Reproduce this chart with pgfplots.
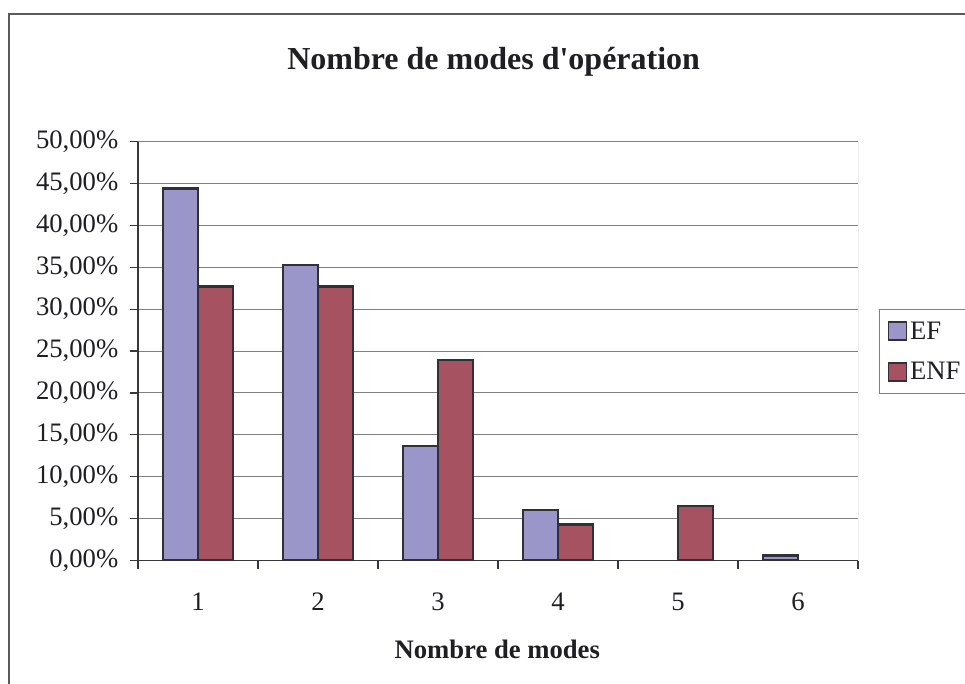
\documentclass[border=0pt]{standalone}
\usepackage{pgfplots}
\pgfplotsset{compat=1.18}
\usepackage{fontspec}
\setmainfont{Liberation Serif}
\definecolor{efc}{RGB}{155,150,201}
\definecolor{enfc}{RGB}{166,82,96}
\definecolor{barline}{RGB}{48,48,56}
\definecolor{gridc}{RGB}{128,128,128}
\definecolor{axc}{RGB}{55,55,60}
\definecolor{txt}{RGB}{30,30,35}
\definecolor{framec}{RGB}{90,90,90}
\pgfplotsset{mylegend/.style={legend image code/.code={\draw[##1, line width=1.4pt] (0pt,-6.75pt) rectangle (13.5pt,6.75pt);}}}
\begin{document}
\begin{tikzpicture}
\useasboundingbox (0,0) rectangle (723.75pt,-513pt);
\draw[framec, line width=1.5pt] (6.4pt,-600pt) -- (6.4pt,-10.5pt) -- (800pt,-10.5pt);
\begin{axis}[
  at={(103.5pt,-420.4pt)}, anchor=south west,
  scale only axis, width=540pt, height=314.25pt,
  xmin=0.5, xmax=6.5, ymin=0, ymax=50,
  ybar=0pt, bar width=26.25pt,
  axis x line*=bottom, axis y line*=left,
  axis line style={axc, line width=0.9pt},
  xtick={0.5,1.5,...,6.5}, xticklabels={},
  extra x ticks={1,2,3,4,5,6},
  extra x tick labels={1,2,3,4,5,6},
  extra x tick style={major tick length=0pt},
  ytick={0,5,...,50},
  tick align=outside, major tick length=6pt,
  tick style={axc, line width=0.9pt},
  ymajorgrids, major grid style={gridc, line width=0.75pt},
  /pgf/number format/assume math mode=true,
  yticklabel={\pgfmathprintnumber[fixed,fixed zerofill,precision=2,use comma]{\tick}\%},
  tick label style={font=\fontsize{20}{24}\selectfont, text=txt},
  xticklabel style={anchor=base, yshift=-37.1pt},
  yticklabel style={anchor=east, xshift=-5.25pt},
  title={Nombre de modes d\textquotesingle opération},
  title style={font=\bfseries\fontsize{24}{28}\selectfont, text=txt, at={(axis description cs:0.494,1.154)}, anchor=base, yshift=0pt},
  xlabel={Nombre de modes},
  xlabel style={font=\bfseries\fontsize{20}{24}\selectfont, text=txt, at={(axis description cs:0.499,-0.2327)}, anchor=base},
  legend style={at={(1.0292,0.6002)}, anchor=north west, draw=gridc, line width=0.75pt,
    font=\fontsize{20}{24}\selectfont, text=txt, row sep=12pt, inner ysep=7pt, inner xsep=6pt, cells={anchor=west}},
]
\addplot[fill=efc, draw=barline, line width=1.8pt, mylegend] coordinates {(1,44.4) (2,35.3) (3,13.7) (4,6.0) (6,0.6)};
\addplot[fill=enfc, draw=barline, line width=1.8pt, mylegend] coordinates {(1,32.7) (2,32.7) (3,23.9) (4,4.3) (5,6.5)};
\legend{EF,ENF}
\draw[gridc, line width=0.75pt] (rel axis cs:1,0) -- (rel axis cs:1,1);
\end{axis}
\end{tikzpicture}
\end{document}
